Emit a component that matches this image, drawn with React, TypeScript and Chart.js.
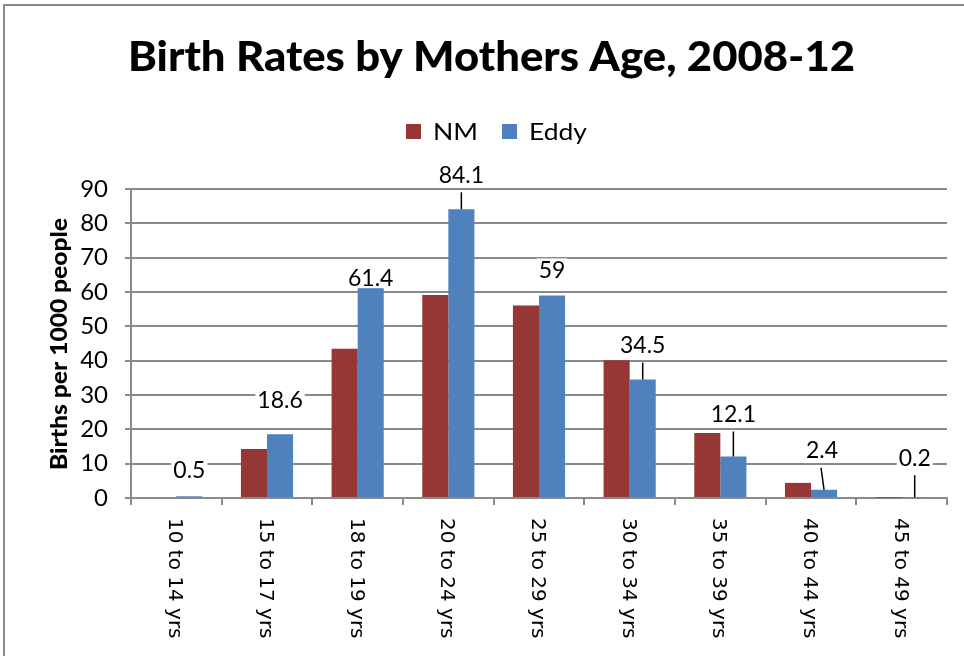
import { useEffect, useRef } from "react";
import { Chart, registerables } from "chart.js";

Chart.register(...registerables);

// ---- data ----
const categories = [
  "10 to 14 yrs",
  "15 to 17 yrs",
  "18 to 19 yrs",
  "20 to 24 yrs",
  "25 to 29 yrs",
  "30 to 34 yrs",
  "35 to 39 yrs",
  "40 to 44 yrs",
  "45 to 49 yrs",
];
const nmValues = [0.3, 14.3, 43.5, 59.1, 56.1, 40.1, 18.9, 4.4, 0.1];
const eddyValues = [0.5, 18.6, 61.4, 84.1, 59, 34.5, 12.1, 2.4, 0.2];
const seriesNames = ["NM", "Eddy"];
const titleText = "Birth Rates by Mothers Age, 2008-12";
const yAxisTitle = "Births per 1000 people";
const yMin = 0;
const yMax = 90;
const yStep = 10;

// ---- label placement style (px) ----
const labelLift = [27, 35, 10, 35, 26, 35, 43, 40, 40];
const labelDx = [0, 0, 0, 0, 0, 0, 0, -2, 0];
const labelLeader = [false, false, false, true, false, true, true, true, true];
const leaderSlant = [0, 0, 0, 0, 0, 0, 0, -3, 0];

const NM_COLOR = "#953735";
const EDDY_COLOR = "#4F81BD";
const GRID = "#8a8a8a";

function drawFitted(
  ctx: CanvasRenderingContext2D,
  text: string,
  font: string,
  targetW: number,
  align: "left" | "center"
) {
  ctx.font = font;
  const w = ctx.measureText(text).width;
  const s = targetW / w;
  ctx.save();
  ctx.scale(s, 1);
  ctx.textAlign = "left";
  const x0 = align === "center" ? -w / 2 : 0;
  ctx.fillText(text, x0, 0);
  ctx.restore();
}

const decorPlugin = {
  id: "decor",
  beforeDraw(chart: any) {
    const ctx: CanvasRenderingContext2D = chart.ctx;
    ctx.save();
    ctx.fillStyle = "#ffffff";
    ctx.fillRect(0, 0, chart.width, chart.height);
    ctx.strokeStyle = GRID;
    ctx.lineWidth = 2;
    ctx.beginPath();
    ctx.moveTo(4, chart.height);
    ctx.lineTo(4, 5);
    ctx.lineTo(chart.width, 5);
    ctx.stroke();
    ctx.restore();
  },
  afterDraw(chart: any) {
    const ctx: CanvasRenderingContext2D = chart.ctx;
    ctx.save();
    ctx.fillStyle = "#000";
    ctx.textBaseline = "alphabetic";
    // title
    ctx.save();
    ctx.translate(491.5, 70.5);
    drawFitted(ctx, titleText, "900 41px Lato", 727, "center");
    ctx.restore();

    // legend
    const colors = [NM_COLOR, EDDY_COLOR];
    const textW = [45, 58];
    const box = 15;
    const gap = 12;
    const sep = 24;
    let total = 0;
    seriesNames.forEach((_, i) => {
      total += box + gap + textW[i] + (i < seriesNames.length - 1 ? sep : 0);
    });
    let lx = 496.5 - total / 2;
    seriesNames.forEach((name, i) => {
      ctx.fillStyle = colors[i];
      ctx.fillRect(lx, 124, box, box);
      lx += box + gap;
      ctx.fillStyle = "#000";
      ctx.save();
      ctx.translate(lx, 140);
      drawFitted(ctx, name, "24px Lato", textW[i], "left");
      ctx.restore();
      lx += textW[i] + sep;
    });

    // y axis title
    ctx.save();
    ctx.translate(67, 344);
    ctx.rotate(-Math.PI / 2);
    drawFitted(ctx, yAxisTitle, "900 22px Lato", 252, "center");
    ctx.restore();

    // x labels (rotated clockwise)
    const xs = chart.scales.x;
    ctx.font = "20px 'DejaVu Sans'";
    ctx.fillStyle = "#000";
    ctx.textAlign = "left";
    categories.forEach((c, i) => {
      const cx = xs.getPixelForValue(i);
      ctx.save();
      ctx.translate(cx, 518);
      ctx.rotate(Math.PI / 2);
      ctx.fillText(c, 0, 7);
      ctx.restore();
    });
    ctx.restore();
  },
  afterDatasetsDraw(chart: any) {
    const ctx: CanvasRenderingContext2D = chart.ctx;
    const meta = chart.getDatasetMeta(1);
    ctx.save();
    ctx.font = "23px Lato";
    ctx.textAlign = "center";
    ctx.textBaseline = "alphabetic";
    meta.data.forEach((bar: any, i: number) => {
      const { x, y } = bar.getProps(["x", "y"], true);
      const lx = x + labelDx[i];
      const ly = y - labelLift[i];
      const text = String(eddyValues[i]);
      if (labelLeader[i]) {
        ctx.strokeStyle = "#000";
        ctx.lineWidth = 1.5;
        ctx.beginPath();
        ctx.moveTo(x + leaderSlant[i], ly + 18);
        ctx.lineTo(x, y);
        ctx.stroke();
      }
      const w = ctx.measureText(text).width;
      ctx.fillStyle = "#fff";
      ctx.fillRect(lx - w / 2 - 2, ly - 11, w + 4, 22);
      ctx.fillStyle = "#000";
      ctx.fillText(text, lx, ly + 8.5);
    });
    ctx.restore();
  },
};

export default function App() {
  const ref = useRef<HTMLCanvasElement | null>(null);
  useEffect(() => {
    if (!ref.current) return;
    const chart = new Chart(ref.current, {
      type: "bar",
      data: {
        labels: categories,
        datasets: [
          {
            label: seriesNames[0],
            data: nmValues,
            backgroundColor: NM_COLOR,
            categoryPercentage: 0.575,
            barPercentage: 1.0,
          },
          {
            label: seriesNames[1],
            data: eddyValues,
            backgroundColor: EDDY_COLOR,
            categoryPercentage: 0.575,
            barPercentage: 1.0,
          },
        ],
      },
      options: {
        responsive: false,
        animation: false,
        layout: { padding: { top: 189, right: 17, left: 0, bottom: 0 } },
        plugins: {
          legend: { display: false },
          title: { display: false },
          tooltip: { enabled: false },
        },
        scales: {
          x: {
            afterFit: (s: any) => {
              s.height = 158;
            },
            grid: {
              display: true,
              drawOnChartArea: false,
              drawTicks: true,
              tickLength: 7,
              color: GRID,
              lineWidth: 2,
              offset: true,
            },
            border: { display: true, color: GRID, width: 2 },
            ticks: { display: false },
          },
          y: {
            min: yMin,
            max: yMax,
            afterFit: (s: any) => {
              s.width = 131;
            },
            ticks: {
              stepSize: yStep,
              color: "#000",
              font: { family: "Lato", size: 24 },
              padding: 17,
            },
            grid: {
              color: GRID,
              lineWidth: 2,
              tickLength: 6,
              drawTicks: true,
            },
            border: { display: true, color: GRID, width: 2 },
          },
        },
      },
      plugins: [decorPlugin],
    });
    return () => chart.destroy();
  }, []);
  return (
    <div style={{ position: "absolute", left: 0, top: 0, width: 964, height: 656 }}>
      <canvas ref={ref} width={964} height={656} style={{ display: "block" }} />
    </div>
  );
}
